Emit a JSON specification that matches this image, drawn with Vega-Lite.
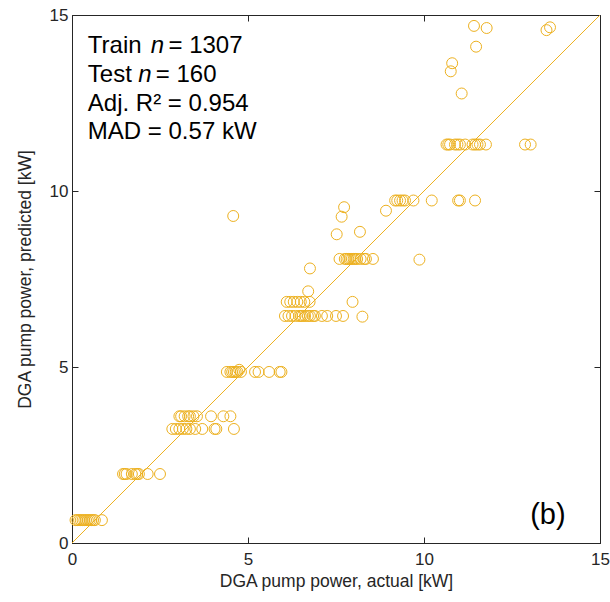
{
  "$schema": "https://vega.github.io/schema/vega-lite/v6.json",
  "width": 528,
  "height": 528,
  "autosize": {"type": "none"},
  "padding": {"left": 72, "top": 15, "right": 10, "bottom": 59},
  "background": "white",
  "config": {
    "view": {"stroke": "#262626", "strokeWidth": 1},
    "font": "Liberation Sans",
    "axis": {
      "domainColor": "#262626",
      "tickColor": "#262626",
      "labelColor": "#262626",
      "titleColor": "#262626",
      "labelFont": "Liberation Sans",
      "titleFont": "Liberation Sans",
      "labelFontSize": 17,
      "titleFontSize": 17.5,
      "titleFontWeight": "normal",
      "labelFlush": false,
      "grid": false,
      "tickSize": -6,
      "tickWidth": 1
    }
  },
  "datasets": {
    "pts": [
      {"a": 0.1, "p": 0.65}, {"a": 0.15, "p": 0.65}, {"a": 0.2, "p": 0.65}, {"a": 0.25, "p": 0.65}, {"a": 0.3, "p": 0.65}, {"a": 0.35, "p": 0.65}, {"a": 0.4, "p": 0.65}, {"a": 0.45, "p": 0.65}, {"a": 0.5, "p": 0.65}, {"a": 0.55, "p": 0.65}, {"a": 0.6, "p": 0.65}, {"a": 0.65, "p": 0.65}, {"a": 0.85, "p": 0.65},
      {"a": 1.45, "p": 1.96}, {"a": 1.5, "p": 1.96}, {"a": 1.55, "p": 1.96}, {"a": 1.7, "p": 1.96}, {"a": 1.8, "p": 1.96}, {"a": 1.85, "p": 1.96}, {"a": 1.9, "p": 1.96}, {"a": 2.15, "p": 1.96}, {"a": 2.5, "p": 1.96},
      {"a": 2.85, "p": 3.24}, {"a": 2.95, "p": 3.24}, {"a": 3.05, "p": 3.24}, {"a": 3.15, "p": 3.24}, {"a": 3.25, "p": 3.24}, {"a": 3.35, "p": 3.24}, {"a": 3.5, "p": 3.24}, {"a": 3.7, "p": 3.24}, {"a": 4.05, "p": 3.24}, {"a": 4.1, "p": 3.24}, {"a": 4.6, "p": 3.24},
      {"a": 3.05, "p": 3.6}, {"a": 3.1, "p": 3.6}, {"a": 3.2, "p": 3.6}, {"a": 3.3, "p": 3.6}, {"a": 3.35, "p": 3.6}, {"a": 3.45, "p": 3.6}, {"a": 3.55, "p": 3.6}, {"a": 3.95, "p": 3.6}, {"a": 4.3, "p": 3.6}, {"a": 4.5, "p": 3.6},
      {"a": 4.4, "p": 4.86}, {"a": 4.5, "p": 4.86}, {"a": 4.55, "p": 4.86}, {"a": 4.6, "p": 4.86}, {"a": 4.65, "p": 4.86}, {"a": 4.7, "p": 4.86}, {"a": 4.75, "p": 4.92}, {"a": 4.8, "p": 4.86}, {"a": 5.2, "p": 4.86}, {"a": 5.3, "p": 4.86}, {"a": 5.6, "p": 4.86}, {"a": 5.9, "p": 4.86}, {"a": 5.95, "p": 4.86},
      {"a": 6.05, "p": 6.45}, {"a": 6.15, "p": 6.45}, {"a": 6.25, "p": 6.45}, {"a": 6.35, "p": 6.45}, {"a": 6.45, "p": 6.45}, {"a": 6.5, "p": 6.45}, {"a": 6.55, "p": 6.45}, {"a": 6.62, "p": 6.45}, {"a": 6.7, "p": 6.45}, {"a": 6.76, "p": 6.45}, {"a": 6.85, "p": 6.45}, {"a": 6.9, "p": 6.45}, {"a": 7.1, "p": 6.45}, {"a": 7.25, "p": 6.45}, {"a": 7.5, "p": 6.45}, {"a": 7.7, "p": 6.45}, {"a": 8.25, "p": 6.43},
      {"a": 6.1, "p": 6.85}, {"a": 6.2, "p": 6.85}, {"a": 6.3, "p": 6.85}, {"a": 6.4, "p": 6.85}, {"a": 6.5, "p": 6.85}, {"a": 6.6, "p": 6.85}, {"a": 6.75, "p": 6.85}, {"a": 7.97, "p": 6.85},
      {"a": 6.71, "p": 7.15}, {"a": 6.76, "p": 7.8},
      {"a": 7.6, "p": 8.07}, {"a": 7.75, "p": 8.07}, {"a": 7.8, "p": 8.07}, {"a": 7.85, "p": 8.07}, {"a": 7.9, "p": 8.07}, {"a": 7.95, "p": 8.07}, {"a": 8.0, "p": 8.07}, {"a": 8.05, "p": 8.07}, {"a": 8.1, "p": 8.07}, {"a": 8.2, "p": 8.07}, {"a": 8.3, "p": 8.07}, {"a": 8.35, "p": 8.07}, {"a": 8.55, "p": 8.07}, {"a": 9.87, "p": 8.05},
      {"a": 7.52, "p": 8.77}, {"a": 8.18, "p": 8.84}, {"a": 7.66, "p": 9.27}, {"a": 7.73, "p": 9.54}, {"a": 8.92, "p": 9.44}, {"a": 4.58, "p": 9.29},
      {"a": 9.18, "p": 9.73}, {"a": 9.24, "p": 9.73}, {"a": 9.32, "p": 9.73}, {"a": 9.39, "p": 9.73}, {"a": 9.46, "p": 9.73}, {"a": 9.7, "p": 9.73}, {"a": 10.22, "p": 9.73}, {"a": 10.97, "p": 9.73}, {"a": 11.02, "p": 9.73}, {"a": 11.45, "p": 9.73},
      {"a": 10.64, "p": 11.32}, {"a": 10.69, "p": 11.32}, {"a": 10.74, "p": 11.32}, {"a": 10.88, "p": 11.32}, {"a": 10.95, "p": 11.32}, {"a": 11.02, "p": 11.32}, {"a": 11.17, "p": 11.32}, {"a": 11.38, "p": 11.32}, {"a": 11.45, "p": 11.32}, {"a": 11.52, "p": 11.32}, {"a": 11.59, "p": 11.32}, {"a": 11.76, "p": 11.32}, {"a": 12.87, "p": 11.32}, {"a": 13.03, "p": 11.32},
      {"a": 11.42, "p": 14.69}, {"a": 11.78, "p": 14.63}, {"a": 13.48, "p": 14.57}, {"a": 13.58, "p": 14.65}, {"a": 11.48, "p": 14.1}, {"a": 10.8, "p": 13.63}, {"a": 10.76, "p": 13.4}, {"a": 11.07, "p": 12.77}
    ],
    "diag": [{"a": 0, "p": 0}, {"a": 15, "p": 15}],
    "txt": [
      {"x": 0.45, "y": 13.91, "t": "Train"},
      {"x": 2.74, "y": 13.91, "t": "= 1307"},
      {"x": 0.45, "y": 13.11, "t": "Test"},
      {"x": 2.38, "y": 13.11, "t": "= 160"},
      {"x": 0.45, "y": 12.28, "t": "Adj. R² = 0.954"},
      {"x": 0.45, "y": 11.47, "t": "MAD = 0.57 kW"}
    ],
    "txti": [
      {"x": 2.24, "y": 13.91, "t": "n"},
      {"x": 1.88, "y": 13.11, "t": "n"}
    ],
    "tag": [{"x": 13.52, "y": 0.8, "t": "(b)"}]
  },
  "layer": [
    {
      "data": {"name": "diag"},
      "mark": {"type": "line", "color": "#EDB120", "strokeWidth": 1, "clip": true},
      "encoding": {
        "x": {"field": "a", "type": "quantitative", "scale": {"domain": [0, 15], "nice": false},
              "axis": {"orient": "top", "values": [0, 5, 10, 15], "labels": false, "title": null, "domain": false}},
        "y": {"field": "p", "type": "quantitative", "scale": {"domain": [0, 15], "nice": false},
              "axis": {"orient": "right", "values": [0, 5, 10, 15], "labels": false, "title": null, "domain": false}}
      }
    },
    {
      "data": {"name": "pts"},
      "mark": {"type": "point", "shape": "circle", "filled": false, "color": "#EDB120", "size": 120, "strokeWidth": 1, "opacity": 1},
      "encoding": {
        "x": {"field": "a", "type": "quantitative", "scale": {"domain": [0, 15], "nice": false},
              "axis": {"orient": "bottom", "values": [0, 5, 10, 15], "title": "DGA pump power, actual [kW]", "labelPadding": 14, "titlePadding": 5}},
        "y": {"field": "p", "type": "quantitative", "scale": {"domain": [0, 15], "nice": false},
              "axis": {"orient": "left", "values": [0, 5, 10, 15], "title": "DGA pump power, predicted [kW]", "labelPadding": 10, "titlePadding": 15}}
      }
    },
    {
      "data": {"name": "txt"},
      "mark": {"type": "text", "align": "left", "baseline": "alphabetic", "fontSize": 24, "font": "Liberation Sans", "color": "black"},
      "encoding": {
        "x": {"field": "x", "type": "quantitative", "axis": null},
        "y": {"field": "y", "type": "quantitative", "axis": null},
        "text": {"field": "t"}
      }
    },
    {
      "data": {"name": "txti"},
      "mark": {"type": "text", "align": "left", "baseline": "alphabetic", "fontSize": 24, "fontStyle": "italic", "font": "Liberation Sans", "color": "black"},
      "encoding": {
        "x": {"field": "x", "type": "quantitative", "axis": null},
        "y": {"field": "y", "type": "quantitative", "axis": null},
        "text": {"field": "t"}
      }
    },
    {
      "data": {"name": "tag"},
      "mark": {"type": "text", "align": "center", "baseline": "middle", "fontSize": 29, "font": "Liberation Sans", "color": "black"},
      "encoding": {
        "x": {"field": "x", "type": "quantitative", "axis": null},
        "y": {"field": "y", "type": "quantitative", "axis": null},
        "text": {"field": "t"}
      }
    }
  ]
}
